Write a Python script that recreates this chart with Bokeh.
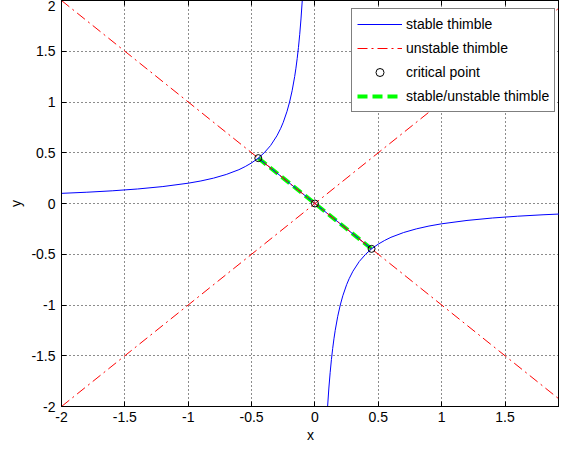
from bokeh.plotting import figure
from bokeh.models import FixedTicker, LinearAxis, Legend, LegendItem
from bokeh.embed import file_html
from bokeh.resources import INLINE

# stable thimble, left branch
stable_left_x = [-2.0, -1.8, -1.6, -1.4, -1.2, -1.0, -0.9, -0.8, -0.7, -0.6, -0.55, -0.5, -0.447,
                 -0.4, -0.35, -0.3, -0.27, -0.25, -0.22, -0.2, -0.18, -0.16, -0.15, -0.14, -0.13,
                 -0.12, -0.11, -0.1]
stable_left_y = [0.1, 0.111, 0.125, 0.143, 0.167, 0.2, 0.222, 0.25, 0.286, 0.333, 0.364, 0.4, 0.447,
                 0.5, 0.571, 0.667, 0.741, 0.8, 0.909, 1.0, 1.111, 1.25, 1.333, 1.429, 1.538,
                 1.667, 1.818, 2.0]
# stable thimble, right branch
stable_right_x = [0.1, 0.11, 0.12, 0.13, 0.14, 0.15, 0.16, 0.18, 0.2, 0.22, 0.25, 0.27, 0.3, 0.35,
                  0.4, 0.447, 0.5, 0.55, 0.6, 0.7, 0.8, 0.9, 1.0, 1.2, 1.4, 1.6, 1.8, 1.98]
stable_right_y = [-2.0, -1.818, -1.667, -1.538, -1.429, -1.333, -1.25, -1.111, -1.0, -0.909, -0.8,
                  -0.741, -0.667, -0.571, -0.5, -0.447, -0.4, -0.364, -0.333, -0.286, -0.25,
                  -0.222, -0.2, -0.167, -0.143, -0.125, -0.111, -0.101]
# stable thimble between the critical points
stable_mid_x = [-0.447, 0.447]
stable_mid_y = [0.447, -0.447]
# unstable thimbles
unstable1_x = [-2.0, 2.0]
unstable1_y = [2.0, -2.0]
unstable2_x = [-2.0, 2.0]
unstable2_y = [-2.0, 2.0]
# critical points
crit_x = [-0.447, 0.0, 0.447]
crit_y = [0.447, 0.0, -0.447]
# stable/unstable thimble
su_x = [-0.447, 0.447]
su_y = [0.447, -0.447]

x_ticks = [-2, -1.5, -1, -0.5, 0, 0.5, 1, 1.5]
y_ticks = [-2, -1.5, -1, -0.5, 0, 0.5, 1, 1.5, 2]
x_tick_labels = ["-2", "-1.5", "-1", "-0.5", "0", "0.5", "1", "1.5"]
y_tick_labels = ["-2", "-1.5", "-1", "-0.5", "0", "0.5", "1", "1.5", "2"]

FONT = "Liberation Sans"
BLUE = "#0000ff"
RED = "#ff0000"
GREEN = "#00ff00"

p = figure(width=559, height=446, x_range=(-2, 1.93), y_range=(-2, 2),
           output_backend="svg", toolbar_location=None,
           min_border_top=0, min_border_right=0, min_border_left=61, min_border_bottom=40,
           background_fill_color="white", border_fill_color="white")
p.outline_line_color = "black"
p.outline_line_width = 1

for ax, ticks, labels in ((p.xaxis[0], x_ticks, x_tick_labels), (p.yaxis[0], y_ticks, y_tick_labels)):
    ax.ticker = FixedTicker(ticks=ticks)
    ax.major_label_overrides = {t: l for t, l in zip(ticks, labels)}
    ax.major_tick_in = 5
    ax.major_tick_out = 0
    ax.minor_tick_line_color = None
    ax.axis_line_color = "black"
    ax.major_tick_line_color = "black"
    ax.major_label_text_font = FONT
    ax.major_label_text_font_size = "14px"
    ax.major_label_text_color = "black"
    ax.axis_label_text_font = FONT
    ax.axis_label_text_font_size = "14px"
    ax.axis_label_text_font_style = "normal"
    ax.axis_label_text_color = "black"
p.xaxis.axis_label = "x"
p.yaxis.axis_label = "y"
p.xaxis.major_label_standoff = 5
p.xaxis.axis_label_standoff = 2
p.yaxis.major_label_standoff = 6
p.yaxis.axis_label_standoff = 4

top = LinearAxis(ticker=FixedTicker(ticks=x_ticks), major_tick_in=5, major_tick_out=0,
                 minor_tick_line_color=None, major_label_text_font_size="1px",
                 major_label_text_alpha=0, major_label_standoff=0, axis_line_color="black")
p.add_layout(top, "above")

for g in (p.xgrid[0], p.ygrid[0]):
    g.grid_line_color = "black"
    g.grid_line_dash = "1 3"
    g.grid_line_width = 1
    g.grid_line_alpha = 0.9
p.xgrid.ticker = FixedTicker(ticks=x_ticks)
p.ygrid.ticker = FixedTicker(ticks=y_ticks)

r_su = p.line(su_x, su_y, line_color=GREEN, line_width=4, line_dash="10 5")
r_s1 = p.line(stable_left_x, stable_left_y, line_color=BLUE, line_width=1)
r_s2 = p.line(stable_right_x, stable_right_y, line_color=BLUE, line_width=1)
r_s3 = p.line(stable_mid_x, stable_mid_y, line_color=BLUE, line_width=1)
r_u1 = p.line(unstable1_x, unstable1_y, line_color=RED, line_width=1, line_dash="10 4 2 4")
r_u2 = p.line(unstable2_x, unstable2_y, line_color=RED, line_width=1, line_dash="10 4 2 4")
r_c = p.scatter(crit_x, crit_y, marker="circle", size=7, line_color="black", line_width=1,
                fill_color=None)

legend = Legend(items=[
    LegendItem(label="stable thimble", renderers=[r_s1]),
    LegendItem(label="unstable thimble", renderers=[r_u1]),
    LegendItem(label="critical point", renderers=[r_c]),
    LegendItem(label="stable/unstable thimble", renderers=[r_su]),
], location=(290, 294))
legend.label_text_font = FONT
legend.label_text_font_size = "14px"
legend.label_text_color = "black"
legend.border_line_color = "black"
legend.border_line_width = 1
legend.background_fill_color = "white"
legend.background_fill_alpha = 1
legend.glyph_width = 45
legend.glyph_height = 20
legend.label_height = 20
legend.label_standoff = 4
legend.spacing = 4
legend.padding = 5
legend.margin = 0
p.add_layout(legend, "center")

open("out.html", "w").write(file_html(p, INLINE))
